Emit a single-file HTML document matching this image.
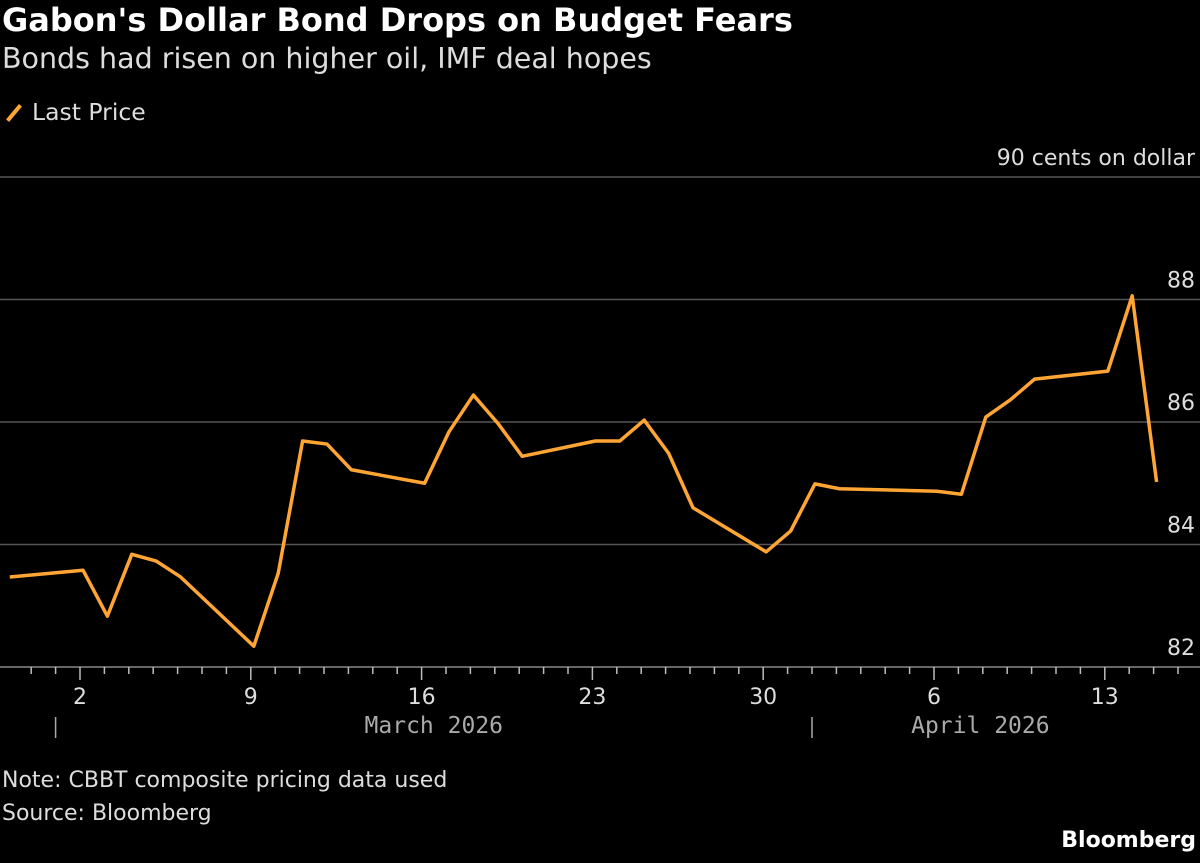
<!DOCTYPE html>
<html><head><meta charset="utf-8"><style>
body{margin:0;background:#000;width:1200px;height:863px;overflow:hidden;font-family:"DejaVu Sans","Liberation Sans",sans-serif;color:#fff}
.t{position:absolute;left:2px;white-space:nowrap}
</style></head><body>
<div class="t" style="top:1px;font-size:32px;font-weight:bold;">Gabon's Dollar Bond Drops on Budget Fears</div>
<div class="t" style="top:42px;font-size:28.5px;color:#ddd">Bonds had risen on higher oil, IMF deal hopes</div>
<div class="t" style="top:98px;font-size:23.5px;color:#ddd"><span style="display:inline-block;width:4px;height:20px;background:#ffa533;transform:rotate(40deg);margin:0 16px 0 10px;vertical-align:-3px"></span>Last Price</div>
<svg id="c" width="1200" height="863" style="position:absolute;left:0;top:0"></svg>
<div class="t" style="top:768px;font-size:22px;color:#ddd">Note: CBBT composite pricing data used</div>
<div class="t" style="top:801px;font-size:22px;color:#ddd">Source: Bloomberg</div>
<div class="t" style="left:auto;right:4px;top:828px;font-size:22px;font-weight:bold">Bloomberg</div>
<script>
const days=[-3,0,1,2,3,4,7,8,9,10,11,14,15,16,17,18,21,22,23,24,25,28,29,30,31,35,36,37,38,39,42,43,44];
const prices=[83.47,83.58,82.83,83.84,83.73,83.47,82.34,83.53,85.69,85.64,85.22,85.0,85.84,86.44,85.98,85.44,85.69,85.69,86.03,85.49,84.6,83.88,84.22,84.99,84.91,84.87,84.82,86.08,86.36,86.7,86.83,88.06,85.02];
const yTicks=[82,84,86,88,90];
const xTickDays=[0,7,14,21,28,35,42];
const xTickLabels=["2","9","16","23","30","6","13"];
const months=["March 2026","April 2026"];
const monthStart=[-1,30];
const monthLabelDay=[14.5,36.9];
const NS="http://www.w3.org/2000/svg";
const svg=document.getElementById('c');
const X=d=>80+d*24.4;
const LX=d=>83+d*24.4;
const Y=v=>667-(v-82)*61.25;
function el(t,a){const e=document.createElementNS(NS,t);for(const k in a)e.setAttribute(k,a[k]);svg.appendChild(e);return e;}
yTicks.forEach(v=>{
 const l=el('line',{x1:0,x2:1200,y1:Y(v),y2:Y(v),stroke:v==82?'#888':'#555','stroke-width':1.5});
 
 
 const t=el('text',{x:1195,y:Y(v)-12,'text-anchor':'end','font-size':22,fill:'#ddd','font-family':'DejaVu Sans, sans-serif'});
 t.textContent=v==90?'90 cents on dollar':String(v);
 
 
});
for(let d=-2;d<=45;d++){
 const major=xTickDays.includes(d);
 const l=el('line',{x1:X(d),x2:X(d),y1:667,y2:major?680:674,stroke:'#bbb','stroke-width':1.5});
 
 
}
xTickDays.forEach((d,i)=>{
 const t=el('text',{x:X(d),y:704,'text-anchor':'middle','font-size':22,fill:'#ddd','font-family':'DejaVu Sans, sans-serif'});
 t.textContent=xTickLabels[i];
 
 
});
months.forEach((m,i)=>{
 const l=el('line',{x1:X(monthStart[i]),x2:X(monthStart[i]),y1:717,y2:738,stroke:'#aaa','stroke-width':1.5});
 
 
 const t=el('text',{x:X(monthLabelDay[i]),y:733,'text-anchor':'middle','font-size':23,fill:'#aaa','font-family':'DejaVu Sans Mono, monospace'});
 t.textContent=m;
 
 
});
const p=el('polyline',{points:days.map((d,i)=>LX(d)+','+Y(prices[i])).join(' '),fill:'none',stroke:'#ffa533','stroke-width':3.5,'stroke-linejoin':'round'});


</script>
</body></html>
